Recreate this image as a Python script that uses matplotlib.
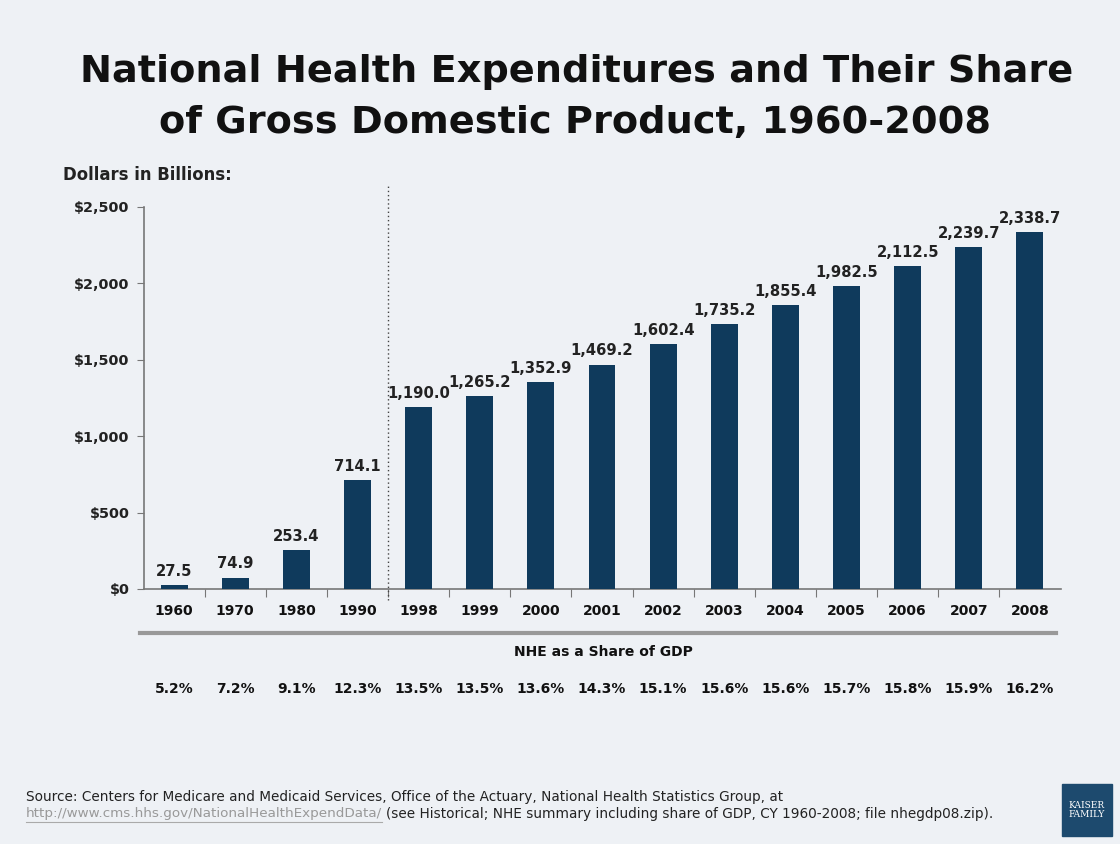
import matplotlib.pyplot as plt
from matplotlib.patches import Rectangle

years = ['1960', '1970', '1980', '1990', '1998', '1999', '2000', '2001',
         '2002', '2003', '2004', '2005', '2006', '2007', '2008']
spending = [27.5, 74.9, 253.4, 714.1, 1190.0, 1265.2, 1352.9, 1469.2,
            1602.4, 1735.2, 1855.4, 1982.5, 2112.5, 2239.7, 2338.7]
gdp_share = ['5.2%', '7.2%', '9.1%', '12.3%', '13.5%', '13.5%', '13.6%', '14.3%',
             '15.1%', '15.6%', '15.6%', '15.7%', '15.8%', '15.9%', '16.2%']
yticks = [0, 500, 1000, 1500, 2000, 2500]

bg = '#eef1f5'
navy = '#0f3a5c'

W, H = 1120, 844
fig = plt.figure(figsize=(W / 100, H / 100), dpi=100, facecolor=bg)

# title
fig.text(577 / W, 1 - 72 / H, 'National Health Expenditures and Their Share',
         ha='center', va='center', fontsize=27.5, fontweight='bold', color='#111111')
fig.text(575 / W, 1 - 123 / H, 'of Gross Domestic Product, 1960-2008',
         ha='center', va='center', fontsize=27.5, fontweight='bold', color='#111111')

# main axes
left, right = 143.5 / W, 1060.5 / W
bottom, top = 1 - 589 / H, 1 - 207 / H
ax = fig.add_axes([left, bottom, right - left, top - bottom])
ax.set_facecolor(bg)
x = list(range(len(years)))
ax.bar(x, spending, width=0.44, color=navy, zorder=3)
ax.set_xlim(-0.5, len(years) - 0.5)
ax.set_ylim(0, 2500)

for xi, v in zip(x, spending):
    ax.text(xi, v + 40, f'{v:,.1f}', ha='center', va='bottom',
            fontsize=10.6, fontweight='bold', color='#222222')

ax.set_yticks(yticks)
ax.set_yticklabels([f'${t:,}' for t in yticks], fontsize=10.4,
                   fontweight='bold', color='#222222')
ax.tick_params(axis='y', length=5, color='#777777', pad=5)
ax.set_xticks([i - 0.5 for i in range(1, len(years))], minor=False)
ax.set_xticklabels([])
ax.tick_params(axis='x', length=6, color='#777777', direction='out')
for xi, yr in zip(x, years):
    ax.text(xi, -95, yr, ha='center', va='top', fontsize=10,
            fontweight='bold', color='#111111')

for s in ['top', 'right']:
    ax.spines[s].set_visible(False)
for s in ['left', 'bottom']:
    ax.spines[s].set_color('#777777')
    ax.spines[s].set_linewidth(1.2)

# dotted separator between decades and years
ax.plot([3.5, 3.5], [-70, 2650], ls=(0, (1, 2)), color='#444444',
        lw=1, clip_on=False, zorder=2)

fig.text(63 / W, 1 - 175 / H, 'Dollars in Billions:', ha='left', va='center',
         fontsize=11.9, fontweight='bold', color='#222222')

# GDP share row
fig.add_artist(plt.Line2D([140 / W, 1056 / W], [1 - 633 / H] * 2,
                          color='#999999', lw=3))
fig.text(603 / W, 1 - 652 / H, 'NHE as a Share of GDP', ha='center', va='center',
         fontsize=10, fontweight='bold', color='#111111')
for xi, s in zip(x, gdp_share):
    xf = left + (xi + 0.5) / len(years) * (right - left)
    fig.text(xf, 1 - 689 / H, s, ha='center', va='center', fontsize=10,
             fontweight='bold', color='#111111')

# source
fig.text(26 / W, 1 - 797 / H,
         'Source: Centers for Medicare and Medicaid Services, Office of the Actuary, '
         'National Health Statistics Group, at',
         ha='left', va='center', fontsize=9.8, color='#222222')
fig.text(26 / W, 1 - 814 / H, 'http://www.cms.hhs.gov/NationalHealthExpendData/',
         ha='left', va='center', fontsize=9.7, color='#999999')
fig.text(386 / W, 1 - 814 / H,
         '(see Historical; NHE summary including share of GDP, CY 1960-2008; '
         'file nhegdp08.zip).',
         ha='left', va='center', fontsize=9.8, color='#222222')
fig.add_artist(plt.Line2D([26 / W, 382 / W], [1 - 822 / H] * 2,
                          color='#aaaaaa', lw=0.8))

# logo
fig.add_artist(Rectangle((1062 / W, 1 - 836 / H), 50 / W, 52 / H,
                         transform=fig.transFigure, color='#1d4a6e'))
fig.text(1087 / W, 1 - 810 / H, 'KAISER\nFAMILY', ha='center', va='center',
         fontsize=6.5, family='serif', color='white', linespacing=1.0)

fig.savefig('out.png', dpi=100, facecolor=bg)
